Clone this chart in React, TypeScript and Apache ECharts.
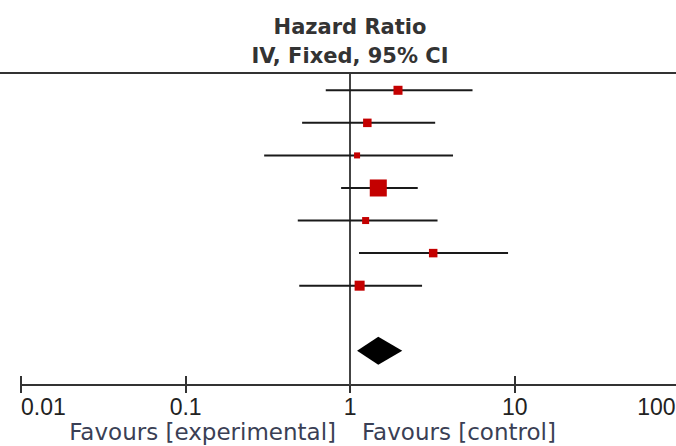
import React, { useEffect, useRef } from "react";
import * as echarts from "echarts";

// ---- data ----
const studyRows = [1, 2, 3, 4, 5, 6, 7];
const hazardRatios = [1.95, 1.27, 1.1, 1.48, 1.24, 3.19, 1.14];
const lowerCI = [0.71, 0.51, 0.3, 0.88, 0.48, 1.13, 0.49];
const upperCI = [5.53, 3.28, 4.21, 2.57, 3.39, 9.09, 2.73];
const weights = [11.6, 10.3, 5.2, 41.3, 7.0, 10.3, 14.3];
const totalRow = 9;
const totalHR = 1.48;
const totalLower = 1.1;
const totalUpper = 2.07;
const tickValues = [0.01, 0.1, 1, 10, 100];
const tickLabels = ["0.01", "0.1", "1", "10", "100"];
const titleLines = ["Hazard Ratio", "IV, Fixed, 95% CI"];
const favourLabels = ["Favours [experimental]", "Favours [control]"];

export default function App() {
  const ref = useRef<HTMLDivElement>(null);

  useEffect(() => {
    if (!ref.current) return;
    const chart = echarts.init(ref.current, undefined, { renderer: "svg" });

    const xMin = tickValues[0];
    const xMax = tickValues[tickValues.length - 1];
    const labelFor = (v: number) => {
      const i = Math.round(Math.log10(v)) - Math.round(Math.log10(xMin));
      const s = tickLabels[i] ?? String(v);
      return i === tickLabels.length - 1 ? "{last|" + s + "}" : s;
    };

    const ciData = studyRows.map((r, i) => [lowerCI[i], upperCI[i], r]);
    const squareData = studyRows.map((r, i) => ({
      value: [hazardRatios[i], r],
      symbolSize: 2.65 * Math.sqrt(weights[i]),
    }));

    const labelFont = "'Liberation Sans', Arial, sans-serif";

    const option: any = {
      animation: false,
      backgroundColor: "#ffffff",
      grid: {
        left: 21,
        right: -3.5,
        top: 74,
        bottom: 61,
        outerBoundsMode: "none",
        containLabel: false,
      },
      xAxis: [
        {
          type: "log",
          logBase: 10,
          min: xMin,
          max: xMax,
          position: "bottom",
          axisLine: { show: true, lineStyle: { color: "#333", width: 2 } },
          axisTick: { show: true, inside: false, length: 8, lineStyle: { color: "#333", width: 2 } },
          splitLine: { show: false },
          minorTick: { show: false },
          axisLabel: {
            show: true,
            margin: 10,
            fontFamily: labelFont,
            fontSize: 23,
            color: "#222",
            showMinLabel: true,
            showMaxLabel: true,
            alignMinLabel: "left",
            alignMaxLabel: "right",
            formatter: (v: number) => labelFor(v),
            rich: {
              last: {
                fontFamily: labelFont,
                fontSize: 23,
                color: "#222",
                padding: [0, 4, 0, 0],
              },
            },
          },
        },
        {
          type: "log",
          logBase: 10,
          min: xMin,
          max: xMax,
          position: "bottom",
          axisLine: { show: false },
          axisTick: { show: true, inside: true, length: 9, lineStyle: { color: "#333", width: 2 } },
          splitLine: { show: false },
          axisLabel: { show: false },
        },
      ],
      yAxis: {
        type: "value",
        inverse: true,
        min: 0.5,
        max: 10.05,
        show: false,
        splitLine: { show: false },
      },
      graphic: [
        {
          type: "line",
          shape: { x1: 0, y1: 73, x2: 676, y2: 73 },
          style: { stroke: "#333", lineWidth: 2 },
          silent: true,
        },
        {
          type: "text",
          x: 350,
          y: 26.5,
          style: {
            text: titleLines[0],
            font: "bold 21px 'DejaVu Sans', sans-serif",
            fill: "#333",
            align: "center",
            verticalAlign: "middle",
            textAlign: "center",
            textVerticalAlign: "middle",
          },
        },
        {
          type: "text",
          x: 350,
          y: 55.5,
          style: {
            text: titleLines[1],
            font: "bold 21px 'DejaVu Sans', sans-serif",
            fill: "#333",
            align: "center",
            verticalAlign: "middle",
            textAlign: "center",
            textVerticalAlign: "middle",
          },
        },
        {
          type: "text",
          x: 336,
          y: 431.5,
          style: {
            text: favourLabels[0],
            font: "23px 'DejaVu Sans', sans-serif",
            fill: "#3a3f55",
            align: "right",
            verticalAlign: "middle",
            textAlign: "right",
            textVerticalAlign: "middle",
          },
        },
        {
          type: "text",
          x: 362,
          y: 431.5,
          style: {
            text: favourLabels[1],
            font: "23px 'DejaVu Sans', sans-serif",
            fill: "#3a3f55",
            align: "left",
            verticalAlign: "middle",
            textAlign: "left",
            textVerticalAlign: "middle",
          },
        },
      ],
      series: [
        {
          type: "custom",
          xAxisIndex: 0,
          yAxisIndex: 0,
          data: ciData,
          encode: { x: [0, 1], y: 2 },
          clip: false,
          z: 2,
          renderItem: (_params: any, api: any) => {
            const p1 = api.coord([api.value(0), api.value(2)]);
            const p2 = api.coord([api.value(1), api.value(2)]);
            return {
              type: "line",
              shape: { x1: p1[0], y1: p1[1], x2: p2[0], y2: p2[1] },
              style: { stroke: "#1a1a1a", lineWidth: 2 },
            };
          },
          markLine: {
            silent: true,
            symbol: "none",
            label: { show: false },
            lineStyle: { color: "#444", width: 2, type: "solid" },
            data: [{ xAxis: 1 }],
            z: 1,
          },
        },
        {
          type: "scatter",
          xAxisIndex: 0,
          yAxisIndex: 0,
          symbol: "rect",
          data: squareData,
          itemStyle: { color: "#c40000", opacity: 1 },
          z: 3,
        },
        {
          type: "custom",
          xAxisIndex: 0,
          yAxisIndex: 0,
          data: [[totalHR, totalLower, totalUpper, totalRow]],
          encode: { x: [0, 1, 2], y: 3 },
          z: 3,
          renderItem: (_params: any, api: any) => {
            const c = api.coord([api.value(0), api.value(3)]);
            const l = api.coord([api.value(1), api.value(3)]);
            const r = api.coord([api.value(2), api.value(3)]);
            const h = 14;
            return {
              type: "polygon",
              shape: {
                points: [
                  [l[0], c[1]],
                  [c[0], c[1] - h],
                  [r[0], c[1]],
                  [c[0], c[1] + h],
                ],
              },
              style: { fill: "#000" },
            };
          },
        },
      ],
    };

    chart.setOption(option);
    return () => chart.dispose();
  }, []);

  return (
    <div
      ref={ref}
      style={{ position: "fixed", left: 0, top: 0, width: 676, height: 446, overflow: "hidden", background: "#fff" }}
    />
  );
}
